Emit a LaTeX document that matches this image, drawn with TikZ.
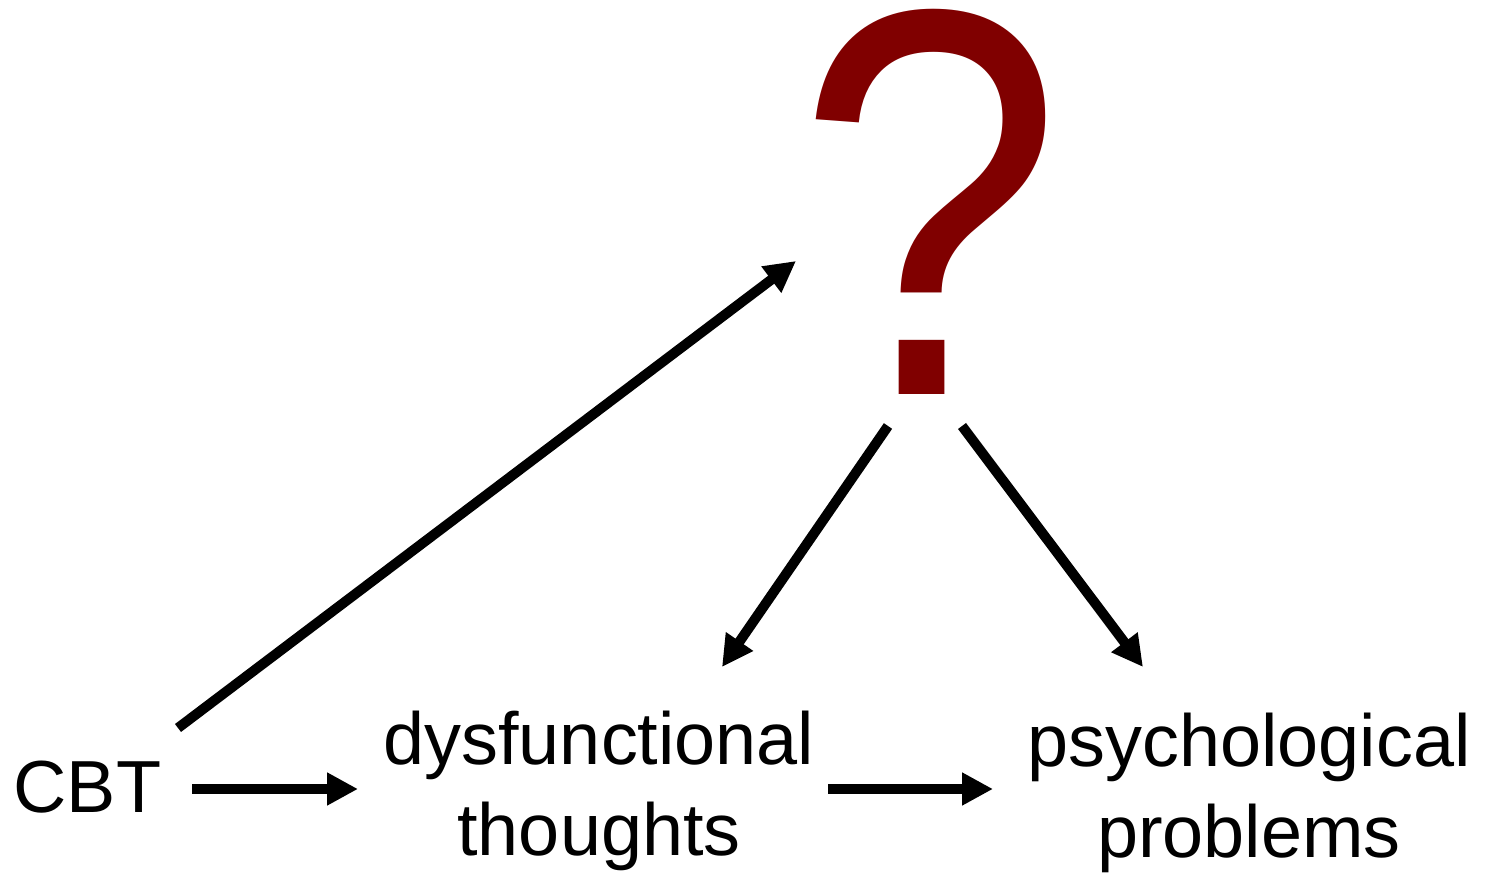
\documentclass[tikz,border=0pt]{standalone}
\usepackage{fontspec}
\setmainfont{Liberation Sans}
\usepackage{xcolor}
\usepackage{tikz}
\usetikzlibrary{arrows.meta,positioning,calc}
\definecolor{darkred}{RGB}{128,0,0}

\begin{document}
\begin{tikzpicture}[x=0.1mm, y=-0.1mm,
    lbl/.style={inner sep=0pt, align=center, font=\fontsize{21}{26}\selectfont},
    arr/.style={line width=1mm, -{Triangle[length=3.1mm, width=3.1mm]}}]
    \useasboundingbox (0,0) rectangle (1496,874);

    % Nodes
    \node[lbl, anchor=base west] (cbt) at (13,812) {CBT};
    \node[lbl] (dys) at (599,791) {dysfunctional\\thoughts};
    \node[lbl] (psy) at (1249,793) {psychological\\problems};
    \node[inner sep=0pt, anchor=base, text=darkred, font=\fontsize{157}{157}\selectfont] (qm) at (930,395) {\scalebox{0.87}[1]{?}};

    % Arrows
    \draw[arr] ($(cbt.base west)+(179,-23)$) -- ($(dys.center)+(-241,-2)$);
    \draw[arr] ($(dys.center)+(229,-2)$) -- ($(psy.center)+(-256,-4)$);
    \draw[arr] ($(cbt.base west)+(165,-84)$) -- ($(qm.base)+(-134,-134)$);
    \draw[arr] ($(qm.base)+(-42,31)$) -- ($(dys.center)+(123,-124)$);
    \draw[arr] ($(qm.base)+(32,31)$) -- ($(psy.center)+(-106,-126)$);
\end{tikzpicture}
\end{document}
